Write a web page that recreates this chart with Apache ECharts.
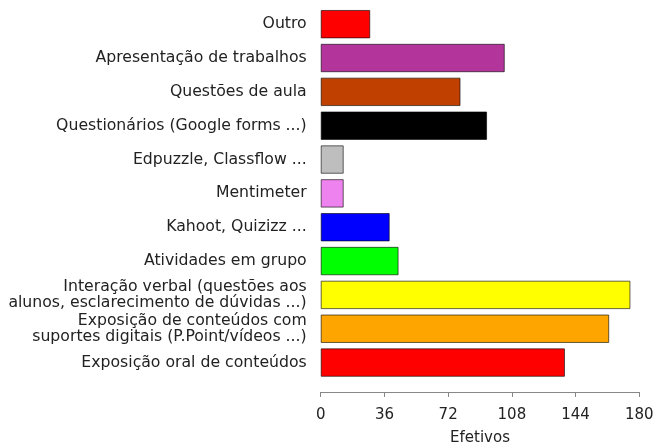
<!DOCTYPE html>
<html>
<head>
<meta charset="utf-8">
<script src="https://cdn.jsdelivr.net/npm/echarts@6/dist/echarts.min.js"></script>
<style>
  html, body { margin: 0; padding: 0; background: #fff; }
  #chart { width: 656px; height: 443px; }
</style>
</head>
<body>
<div id="chart"></div>
<script>
// categorias, de baixo para cima
var categorias = [
    'Exposição oral de conteúdos',
    'Exposição de conteúdos com\nsuportes digitais (P.Point/vídeos ...)',
    'Interação verbal (questões aos\nalunos, esclarecimento de dúvidas ...)',
    'Atividades em grupo',
    'Kahoot, Quizizz ...',
    'Mentimeter',
    'Edpuzzle, Classflow ...',
    'Questionários (Google forms ...)',
    'Questões de aula',
    'Apresentação de trabalhos',
    'Outro'
];
var efetivos = [138, 163, 175, 44, 39, 13, 13, 94, 79, 104, 28];
var cores = ['#ff0000', '#ffa500', '#ffff00', '#00ff00', '#0000ff', '#ee82ee',
             '#bebebe', '#000000', '#c04000', '#b3359c', '#ff0000'];
var ticksX = [0, 36, 72, 108, 144, 180];

(function () {
    var myChart = echarts.init(document.getElementById('chart'));
    var option = {
        animation: false,
        textStyle: { fontFamily: 'DejaVu Sans' },
        grid: {
            left: 320.7,
            right: 16.7,
            top: 7.25,
            bottom: 63.5,
            outerBoundsMode: 'none'
        },
        xAxis: {
            type: 'value',
            min: ticksX[0],
            max: ticksX[ticksX.length - 1],
            interval: ticksX[1] - ticksX[0],
            offset: 12.5,
            name: 'Efetivos',
            nameLocation: 'middle',
            nameGap: 39,
            nameTextStyle: { color: '#222', fontSize: 15 },
            axisLine: { show: true, lineStyle: { color: '#888', width: 1 } },
            axisTick: { show: true, length: 5, lineStyle: { color: '#888' } },
            axisLabel: { color: '#222', fontSize: 15, margin: 16 },
            splitLine: { show: false }
        },
        yAxis: {
            type: 'category',
            data: categorias,
            axisLine: { show: false },
            axisTick: { show: false },
            axisLabel: {
                color: '#222',
                fontSize: 15.7,
                lineHeight: 15.5,
                margin: 14,
                interval: 0
            }
        },
        series: [
            {
                type: 'bar',
                barCategoryGap: '16%',
                data: efetivos.map(function (v, i) {
                    return {
                        value: v,
                        itemStyle: { color: cores[i] }
                    };
                }),
                itemStyle: {
                    borderColor: 'rgba(0,0,0,0.6)',
                    borderWidth: 1
                }
            }
        ]
    };
    myChart.setOption(option);
})();
</script>
</body>
</html>
